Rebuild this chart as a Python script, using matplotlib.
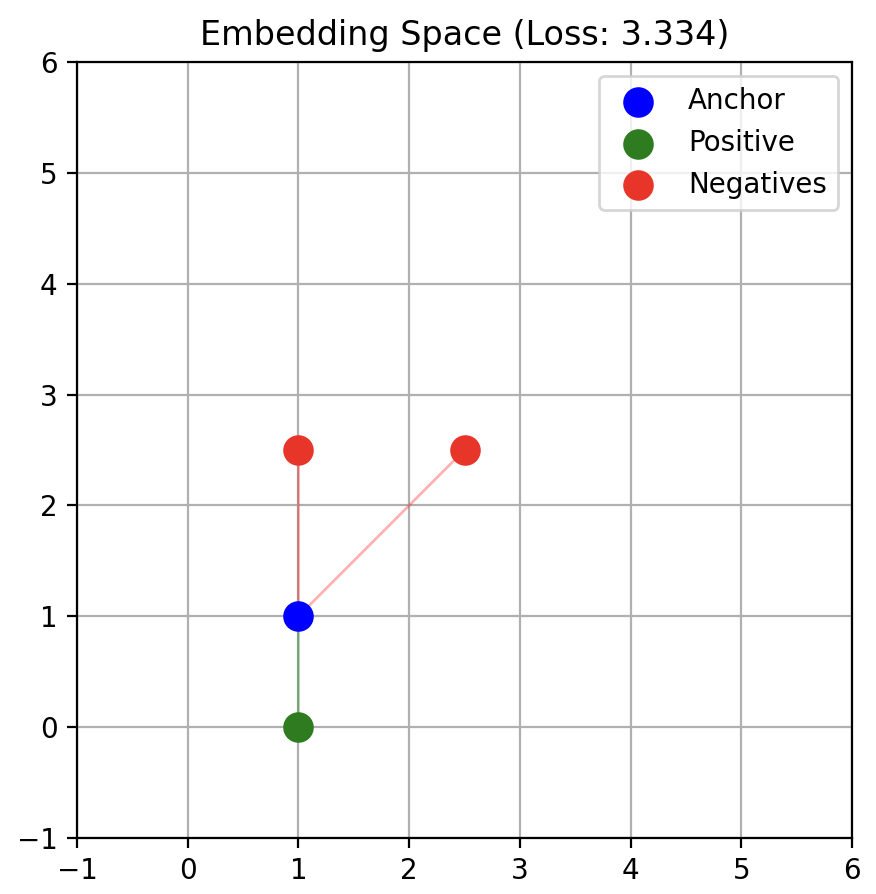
import matplotlib
matplotlib.use("Agg")
import matplotlib.pyplot as plt

anchor = [1.0, 1.0]
positive = [1.0, 0.0]
neg_x = [1.0, 2.5]
neg_y = [2.5, 2.5]
loss = 3.334

c_anchor = "#0000ff"
c_pos = "#2e7b20"
c_neg = "#e8352a"

DPI = 200
fig = plt.figure(figsize=(876/DPI, 894/DPI), dpi=DPI)
ax = fig.add_axes([77/876, 56/894, 775/876, 776/894])

ax.plot([anchor[0], positive[0]], [anchor[1], positive[1]], color="green", alpha=0.3, lw=1, zorder=2)
for x, y in zip(neg_x, neg_y):
    ax.plot([anchor[0], x], [anchor[1], y], color="red", alpha=0.3, lw=1, zorder=2)

ax.scatter([anchor[0]], [anchor[1]], s=100, color=c_anchor, label="Anchor", zorder=3)
ax.scatter([positive[0]], [positive[1]], s=100, color=c_pos, label="Positive", zorder=3)
ax.scatter(neg_x, neg_y, s=100, color=c_neg, label="Negatives", zorder=3)

ax.set_xlim(-1, 6)
ax.set_ylim(-1, 6)
ax.grid(True)
ax.set_axisbelow(True)
ax.set_title(f"Embedding Space (Loss: {loss:.3f})", fontsize=12)
ax.legend(loc="upper right")

fig.savefig("out.png", dpi=DPI)
